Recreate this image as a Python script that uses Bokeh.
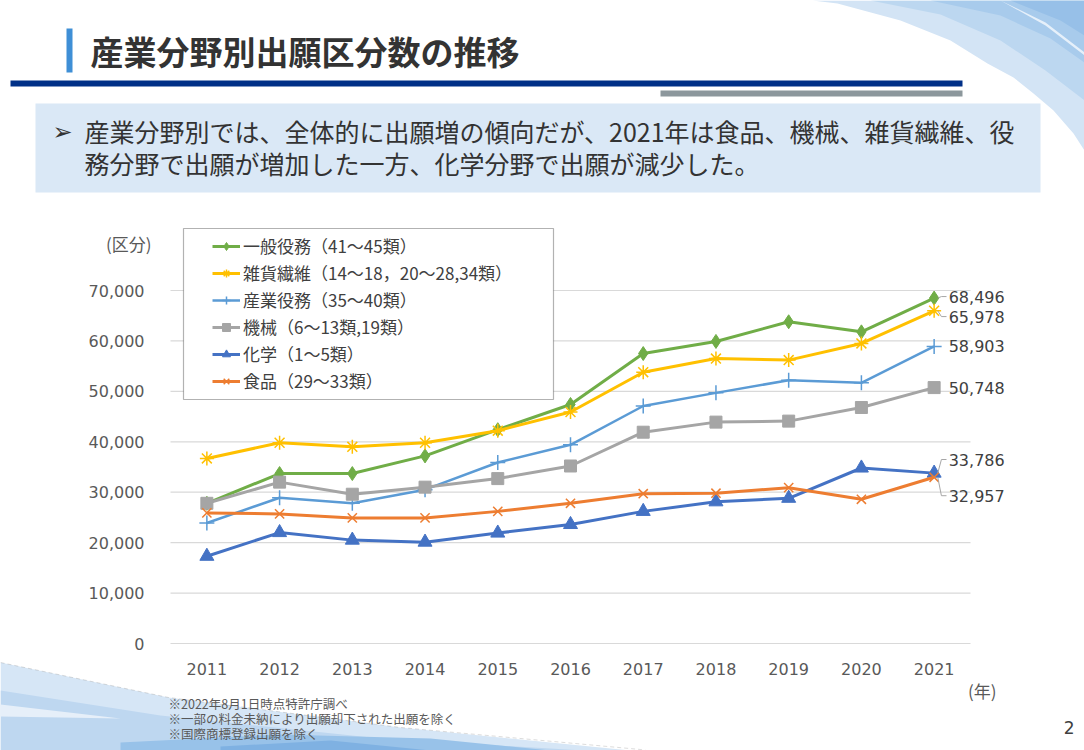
from bokeh.plotting import figure
from bokeh.models import (Range1d, FixedTicker, NumeralTickFormatter, Legend, LegendItem,
                          Label, BoxAnnotation, PolyAnnotation, LinearAxis)
from bokeh.embed import file_html
from bokeh.resources import INLINE

# ---------------- data ----------------
years = [2011, 2012, 2013, 2014, 2015, 2016, 2017, 2018, 2019, 2020, 2021]
general_services = [27800, 33700, 33700, 37200, 42400, 47400, 57500, 59900, 63800, 61800, 68496]
goods_textiles = [36700, 39800, 39000, 39800, 42200, 45900, 53800, 56500, 56200, 59500, 65978]
industrial_services = [23900, 28900, 27800, 30500, 35900, 39400, 47100, 49700, 52200, 51700, 58903]
machinery = [27800, 32000, 29600, 31000, 32700, 35200, 41900, 43900, 44100, 46800, 50748]
chemistry = [17300, 22000, 20500, 20100, 21900, 23600, 26200, 28100, 28800, 34800, 33786]
food = [25900, 25700, 24900, 24900, 26200, 27800, 29700, 29800, 30900, 28600, 32957]

series_names = ["一般役務（41～45類）", "雑貨繊維（14～18，20～28,34類）", "産業役務（35～40類）",
                "機械（6～13類,19類）", "化学（1～5類）", "食品（29～33類）"]
series_values = [general_services, goods_textiles, industrial_services, machinery, chemistry, food]
y_ticks = [0, 10000, 20000, 30000, 40000, 50000, 60000, 70000]

title_text = "産業分野別出願区分数の推移"
summary_line1 = "産業分野別では、全体的に出願増の傾向だが、2021年は食品、機械、雑貨繊維、役"
summary_line2 = "務分野で出願が増加した一方、化学分野で出願が減少した。"
notes = ["※2022年8月1日時点特許庁調べ", "※一部の料金未納により出願却下された出願を除く", "※国際商標登録出願を除く"]

# ---------------- style ----------------
colors = ["#70ad47", "#ffc000", "#5b9bd5", "#a5a5a5", "#4472c4", "#ed7d31"]
markers = ["diamond", "asterisk", "cross", "square", "triangle", "x"]
marker_sizes = [14, 14, 15, 12, 14, 13]
line_widths = [3, 3, 2.5, 3, 3, 3]
end_label_shift = [300, -1150, 0, 0, 2700, -3650]   # label offsets (data units) to avoid overlap

FONT = "Noto Sans CJK JP"
NUMFONT = "DejaVu Sans"

W, H = 1084, 750
PL, PR, PTOP70, PB = 170, 970, 290, 643   # plot-area pixel geometry on the page
x_lo, x_hi = years[0] - 0.5, years[-1] + 0.5
xs_per_px = (x_hi - x_lo) / (PR - PL)
ys_per_px = y_ticks[-1] / (PB - PTOP70)
x_range = Range1d(x_lo - PL * xs_per_px, x_hi + (W - PR) * xs_per_px)
y_range = Range1d(-(H - PB) * ys_per_px, PB * ys_per_px)

p = figure(width=W, height=H, output_backend="svg", toolbar_location=None,
           x_range=x_range, y_range=y_range, x_axis_type=None, y_axis_type=None,
           min_border=0, min_border_left=0, min_border_right=0,
           min_border_top=0, min_border_bottom=0)
p.outline_line_color = None
p.background_fill_color = "white"
p.border_fill_color = "white"
p.xgrid.visible = False
p.ygrid.visible = False

def sx(X):
    return X

def sy(Y):
    return H - Y

# ---------------- decorations (page) ----------------
def poly(xs, ys, color, alpha=1.0, level="underlay", line_color=None, line_dash="solid", line_width=1):
    p.add_layout(PolyAnnotation(xs=[sx(x) for x in xs], ys=[sy(y) for y in ys],
                                xs_units="screen", ys_units="screen",
                                fill_color=color, fill_alpha=alpha if color else 0,
                                line_color=line_color, line_dash=line_dash,
                                line_width=line_width, level=level))

def box(x0, x1, y0, y1, color, level="underlay", line_color=None, line_width=1):
    p.add_layout(BoxAnnotation(left=sx(x0), right=sx(x1), top=sy(y0), bottom=sy(y1),
                               left_units="screen", right_units="screen",
                               top_units="screen", bottom_units="screen",
                               fill_color=color, fill_alpha=1, line_color=line_color,
                               line_width=line_width, level=level))

def text(X, Y, t, size, color="#404040", align="left", bold=False, font=FONT):
    p.add_layout(Label(x=sx(X), y=sy(Y), x_units="screen", y_units="screen", text=t,
                       text_font=font, text_font_size=f"{size}px", text_color=color,
                       text_align=align, text_baseline="middle",
                       text_font_style="bold" if bold else "normal"))

# top-right swoosh
poly([812, 837, 900, 950, 987, 1013, 1033, 1053, 1073, 1084, 1084],
     [0, 3, 20, 40, 63, 77, 93, 110, 133, 150, 0], "#d3e4f5")
poly([870, 940, 1000, 1045, 1084, 1084], [0, 14, 40, 70, 100, 0], "#bcd7f0")
poly([930, 1000, 1050, 1084, 1084], [0, 15, 38, 62, 0], "#a8cbec")
poly([1010, 1060, 1084, 1084], [0, 20, 35, 0], "#97c0e8")
poly([1000, 1045, 1084, 1084, 1045], [0, 22, 52, 55, 25], "#e6f0fa")
# bottom-left swoosh
poly([0, 168, 400, 640, 0], [662, 697, 727, 751, 751], "#d6e6f6")
poly([0, 160, 380, 600, 0], [690, 715, 738, 751, 751], "#bed7f0")
poly([0, 120, 0], [704, 718, 716], "#e6eff9")
poly([120, 280, 430, 560, 120], [742, 734, 738, 751, 751], "#98c2e9")
poly([220, 330, 440, 220], [746, 740, 751, 751], "#7fb1e2")
poly([-20, 0, 168, 400, 640, 700, 700, -20], [656, 662, 697, 727, 749, 760, 800, 800], None,
     line_color="#8a8a8a", line_dash="4 3")

# header
box(66, 72, 28, 72, "#3f8fd6")
text(90, 50, title_text, 33, color="#333333", bold=True)
box(10, 962, 80, 86, "#003087")
box(660, 962, 90, 96, "#8c979c")
box(35, 1040, 103, 192, "#dae8f6")
text(52, 131, "➢", 24, color="#333333", font="DejaVu Sans")
text(84, 130, summary_line1, 25, color="#333333")
text(84, 162, summary_line2, 25, color="#333333")

# footnotes and page number
for i, n in enumerate(notes):
    text(168, 703 + 15 * i, n, 12.5, color="#595959")
text(1074, 727, "2", 17, color="#404040", align="right", font=NUMFONT)
text(151, 243, "(区分)", 17, color="#595959", align="right")
text(996, 690, "(年)", 17, color="#595959", align="right")

# legend backing box
box(183, 553, 228, 399, "white", level="guide", line_color="black", line_width=1.2)

# ---------------- axes (fixed inside the page frame) ----------------
xaxis = LinearAxis(ticker=FixedTicker(ticks=years), fixed_location=0, bounds=(x_lo, x_hi))
xaxis.major_label_text_font = NUMFONT
xaxis.major_label_text_font_size = "16px"
xaxis.major_label_text_color = "#595959"
xaxis.major_label_standoff = 13
xaxis.axis_line_color = None
xaxis.major_tick_line_color = None
xaxis.minor_tick_line_color = None
p.add_layout(xaxis, "below")

yaxis = LinearAxis(ticker=FixedTicker(ticks=y_ticks), fixed_location=x_lo,
                   bounds=(y_ticks[0], y_ticks[-1]),
                   formatter=NumeralTickFormatter(format="0,0"))
yaxis.major_label_text_font = NUMFONT
yaxis.major_label_text_font_size = "16px"
yaxis.major_label_text_color = "#595959"
yaxis.major_label_standoff = 20
yaxis.axis_line_color = None
yaxis.major_tick_line_color = None
yaxis.minor_tick_line_color = None
p.add_layout(yaxis, "left")

# horizontal gridlines over the plot area
p.segment(x0=[x_lo] * len(y_ticks), x1=[x_hi] * len(y_ticks), y0=y_ticks, y1=y_ticks,
          line_color="#d9d9d9", line_width=1.2)

# ---------------- series ----------------
items = []
for name, vals, c, m, ms, lw in zip(series_names, series_values, colors, markers, marker_sizes, line_widths):
    lr = p.line(years, vals, line_color=c, line_width=lw)
    if m in ("asterisk", "cross", "x"):
        sr = p.scatter(years, vals, marker=m, size=ms, line_color=c, line_width=1.5, fill_color=None)
    else:
        sr = p.scatter(years, vals, marker=m, size=ms, line_color=c, fill_color=c)
    items.append(LegendItem(label=name, renderers=[lr, sr]))

# end labels with leader lines
for vals, shift in zip(series_values, end_label_shift):
    v = vals[-1]
    ly = v + shift
    if shift != 0:
        p.line([years[-1] + 0.05, years[-1] + 0.1, years[-1] + 0.17], [v, ly, ly],
               line_color="#a6a6a6", line_width=1)
    p.add_layout(Label(x=years[-1] + 0.2, y=ly, text=f"{v:,}", text_font=NUMFONT,
                       text_font_size="16px", text_color="#404040", text_baseline="middle",
                       text_align="left"))

legend = Legend(items=items, location=(212, H - 393), orientation="vertical",
                border_line_color=None, background_fill_alpha=0,
                label_text_font=FONT, label_text_font_size="17px", label_text_color="#404040",
                glyph_width=28, glyph_height=20, label_height=20, label_standoff=3,
                spacing=2, padding=5, margin=0)
p.add_layout(legend)

open("out.html", "w").write(file_html(p, INLINE))
